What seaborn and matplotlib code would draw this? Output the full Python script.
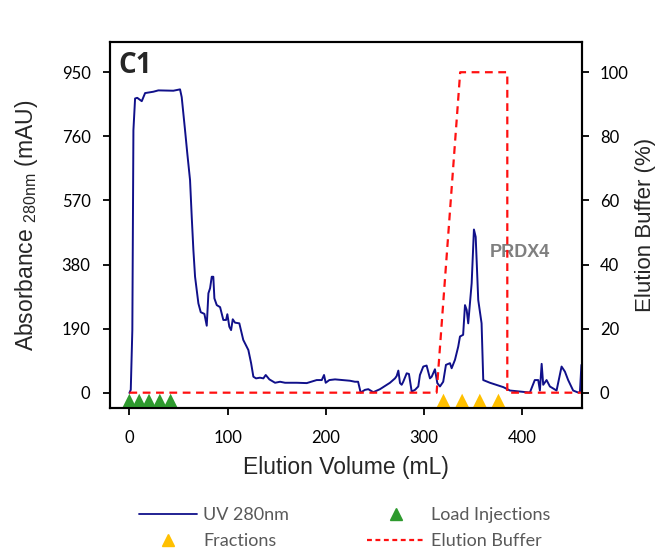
import matplotlib
matplotlib.use("Agg")
import matplotlib.pyplot as plt
from matplotlib.lines import Line2D
import seaborn as sns
import pandas as pd

sns.set_style("ticks")
plt.rcParams['font.family'] = ['Lato', 'DejaVu Sans']
plt.rcParams['mathtext.fontset'] = 'custom'
plt.rcParams['mathtext.rm'] = 'Liberation Sans'

# UV 280nm trace (mL, mAU)
uv_ml = [0, 1.4, 3, 4.1, 5.8, 8, 12.6, 16, 24.4, 29.5, 44.8, 51.6, 53.3, 56.7, 59, 61.8,
         63.5, 65.2, 66.9, 70.3, 72.7, 76.4, 78.8, 80.5, 82.2, 83.9, 85.5, 86.6, 89, 92.4,
         95.7, 98.5, 99.8, 101.8, 103.6, 105.3, 107.6, 112, 116, 121.2, 124, 126.3, 129,
         133, 136.5, 138.9, 142.6, 148.4, 153.5, 158.6, 170.5, 180.7, 190.8, 196, 198.3,
         200, 203.7, 209.5, 224.7, 229.8, 233, 235.6, 240, 243.4, 248.5, 255.3, 265.5,
         270.6, 272.3, 274, 275.7, 277.4, 279, 282.5, 284.8, 287.6, 291, 294.3, 296, 299.4,
         302.8, 306.2, 308, 311.3, 313.7, 316.4, 319.7, 322.5, 326.6, 328.3, 331.7, 335,
         336.8, 340, 341.9, 343.6, 345.2, 348.7, 351, 352.8, 355.4, 358.8, 360.5, 367.3,
         381, 387.7, 397.9, 408, 413, 416.5, 418.2, 420, 421.6, 425, 428.4, 435.2, 440.3,
         443.7, 447, 452.1, 457.2, 459, 460.5]
uv_mau = [0, 9, 186, 778, 872, 874, 864, 888, 892, 896, 895, 899, 876, 778, 709, 630,
          522, 423, 344, 265, 239, 234, 199, 295, 310, 344, 344, 280, 260, 254,
          216, 216, 233, 196, 186, 218, 208, 206, 157, 127, 88, 48, 43,
          45, 43, 53, 40, 30, 33, 30, 30, 29, 38, 38, 53,
          30, 38, 40, 36, 33, 33, 1, 9, 11, 2, 11, 30,
          43, 50, 66, 29, 24, 33, 58, 56, 4, 9, 19, 53, 78,
          81, 43, 48, 70, 29, 19, 33, 83, 88, 73, 98, 137,
          167, 172, 260, 246, 206, 325, 484, 462, 275, 206, 38, 30,
          17, 7, 4, 1, 38, 38, 7, 86, 24, 38, 19, 7, 78,
          63, 38, 7, 1, 2, 83]

# Elution buffer gradient (mL, %)
buf_ml = [0, 313, 337, 385, 385, 461]
buf_pct = [0, 0, 100, 100, 0, 0]

# Marker positions (mL)
load_ml = [0, 10, 20, 31, 42]
frac_ml = [320, 339, 357, 376]
marker_y = -24

navy = "#10108a"
green = "#2e9a2e"
yellow = "#ffc000"
red = "#ff1010"

uv = pd.DataFrame({"ml": uv_ml, "mau": uv_mau})
buf = pd.DataFrame({"ml": buf_ml, "pct": buf_pct})
load = pd.DataFrame({"ml": load_ml, "y": [marker_y] * len(load_ml)})
frac = pd.DataFrame({"ml": frac_ml, "y": [marker_y] * len(frac_ml)})

fig = plt.figure(figsize=(6.59, 5.54), dpi=100)
ax = fig.add_axes([0.167, 0.264, 0.716, 0.660])

sns.lineplot(data=uv, x="ml", y="mau", ax=ax, color=navy, lw=1.4, sort=False,
             estimator=None)
sns.scatterplot(data=load, x="ml", y="y", ax=ax, marker="^", s=110, color=green,
                edgecolor="none", zorder=3)
sns.scatterplot(data=frac, x="ml", y="y", ax=ax, marker="^", s=110, color=yellow,
                edgecolor="none", zorder=3)

ax.set_xlim(-19.7, 461)
ax.set_ylim(-44, 1039)
ax.set_xticks([0, 100, 200, 300, 400])
ax.set_yticks([0, 190, 380, 570, 760, 950])
ax.set_xlabel("Elution Volume (mL)", fontsize=16.5, family="Liberation Sans", labelpad=7)
ax.set_ylabel(r"Absorbance $_{\mathregular{280nm}}$ (mAU)", fontsize=16.5,
              family="Liberation Sans", labelpad=16)

ax2 = ax.twinx()
sns.lineplot(data=buf, x="ml", y="pct", ax=ax2, color=red, lw=1.6, sort=False,
             estimator=None, linestyle=(0, (3.5, 2.5)))
ax2.set_ylim(-4.7, 109.4)
ax2.set_yticks([0, 20, 40, 60, 80, 100])
ax2.set_ylabel("Elution Buffer (%)", fontsize=16, family="Liberation Sans")
ax2.yaxis.set_label_coords(1.112, 0.5)

for a in (ax, ax2):
    for s in a.spines.values():
        s.set_visible(True)
        s.set_linewidth(1.5)
        s.set_color("black")
    a.tick_params(labelsize=12, width=1.3, length=5, colors="black")
    a.tick_params(axis='x', which='both', top=False)
ax.tick_params(axis='x', pad=11)
ax.tick_params(axis='y', pad=9)
ax2.tick_params(axis='y', pad=8)

ax.text(0.018, 0.975, "C1", transform=ax.transAxes, fontsize=20, fontweight="bold",
        va="top", ha="left", family="Open Sans")
ax.text(398, 417, "PRDX4", fontsize=13, fontweight="bold", color="#7f7f7f",
        ha="center", va="center", family="Liberation Sans")

handles = [
    Line2D([], [], color=navy, lw=1.3),
    Line2D([], [], color=yellow, marker="^", ls="none", markersize=8),
    Line2D([], [], color=green, marker="^", ls="none", markersize=8),
    Line2D([], [], color=red, lw=1.6, linestyle=(0, (2.2, 1.6))),
]
labels = ["UV 280nm", "Fractions", "Load Injections", "Elution Buffer"]
leg = fig.legend(handles, labels, loc="center", bbox_to_anchor=(0.523, 0.047), ncol=2,
                 frameon=False, fontsize=13, columnspacing=4.3, handlelength=3.2,
                 handletextpad=0.35, labelspacing=0.55)
for t in leg.get_texts():
    t.set_color("#595959")

fig.savefig("out.png", dpi=100)
